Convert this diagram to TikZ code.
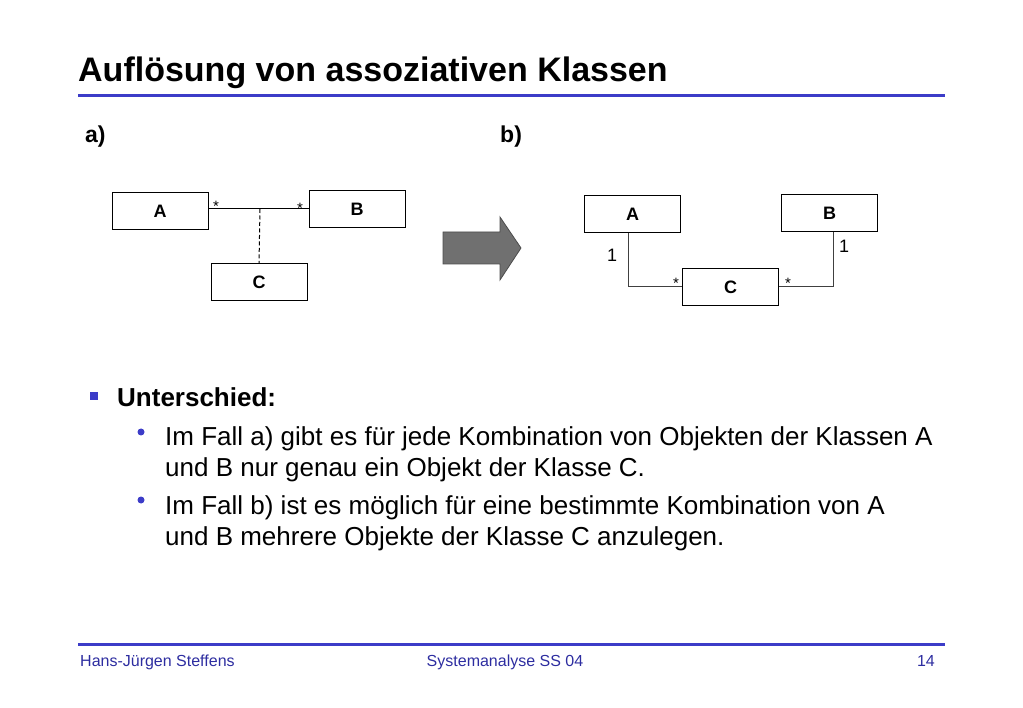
\documentclass[tikz,border=0pt]{standalone}
\usepackage{fontspec}
\setmainfont{Liberation Sans}
\usetikzlibrary{positioning,calc}
\definecolor{folienblau}{RGB}{60,60,200}
\definecolor{fussblau}{RGB}{45,45,160}
\definecolor{pfeilgrau}{RGB}{112,112,112}

\begin{document}
\begin{tikzpicture}[x=1pt,y=-1pt,
	klasse/.style={draw=black,fill=white,line width=1pt,minimum width=96pt,minimum height=37pt,inner sep=0pt,font=\fontsize{18}{18}\selectfont\bfseries},
	mult/.style={inner sep=0pt,font=\fontsize{15}{15}\selectfont},
	rumpf/.style={anchor=base west,inner sep=0pt,font=\fontsize{26}{26}\selectfont},
	fuss/.style={inner sep=0pt,text=fussblau,font=\fontsize{16}{16}\selectfont}]
	\useasboundingbox (0,0) rectangle (1023,708);
	
	\node[anchor=base west,inner sep=0pt,font=\fontsize{34}{34}\selectfont\bfseries] (titel) at (78,82) {Auflösung von assoziativen Klassen};
	\draw[folienblau,line width=3pt] (78,96) -- (945,96);
	
	\node[anchor=base west,inner sep=0pt,font=\fontsize{23}{23}\selectfont\bfseries] (la) at (85,143) {a)};
	\node[anchor=base west,inner sep=0pt,font=\fontsize{23}{23}\selectfont\bfseries] (lb) at (500,143) {b)};
	
	% a) assoziative Klasse
	\node[klasse] (aA) at (160,211) {A};
	\node[klasse] (aB) at (357,209.5) {B};
	\node[klasse] (aC) at (259,282.5) {C};
	\coordinate (mitte) at (260,209);
	\draw[line width=1pt] (aA.east |- mitte) -- (aB.west |- mitte);
	\draw[line width=1pt,dash pattern=on 4pt off 2.5pt] (mitte) -- (aC.north);
	\node[mult] (sa) at (216,206) {*};
	\node[mult] (sb) at (300,208) {*};
	
	% Pfeil
	\draw[fill=pfeilgrau,draw=black!70,line width=0.8pt] (443,232) -- (500,232) -- (500,217) -- (521,248) -- (500,280) -- (500,264) -- (443,264) -- cycle;
	
	% b) aufgeloest
	\node[klasse] (bA) at (632.5,214.5) {A};
	\node[klasse] (bB) at (829.5,213) {B};
	\node[klasse] (bC) at (730.5,287) {C};
	\draw[line width=1pt,black!75] ($(bA.south west)+(44,0)$) |- (bC.west);
	\draw[line width=1pt,black!75] ($(bB.south west)+(52,0)$) |- (bC.east);
	\node[mult,font=\fontsize{18}{18}\selectfont] (ea) at (612,255) {1};
	\node[mult,font=\fontsize{18}{18}\selectfont] (eb) at (844,246) {1};
	\node[mult] (sc) at (676,283) {*};
	\node[mult] (sd) at (788,283) {*};
	
	% Text
	\fill[folienblau] (90,392) rectangle (98,400);
	\node[rumpf,font=\fontsize{26}{26}\selectfont\bfseries] (unt) at (117,407) {Unterschied:};
	\fill[folienblau] (141,432) circle (3.5);
	\node[rumpf] (z1) at (165,446) {Im Fall a) gibt es für jede Kombination von Objekten der Klassen A};
	\node[rumpf] (z2) at (165,476) {und B nur genau ein Objekt der Klasse C.};
	\fill[folienblau] (141,500) circle (3.5);
	\node[rumpf] (z3) at (165,514) {Im Fall b) ist es möglich für eine bestimmte Kombination von A};
	\node[rumpf] (z4) at (165,545) {und B mehrere Objekte der Klasse C anzulegen.};
	
	% Fusszeile
	\draw[folienblau,line width=3pt] (78,644) -- (945,644);
	\node[fuss,anchor=base west] (autor) at (80,666) {Hans-Jürgen Steffens};
	\node[fuss,anchor=base] (kurs) at (505,666) {Systemanalyse SS 04};
	\node[fuss,anchor=base east] (seite) at (935,666) {14};
\end{tikzpicture}
\end{document}
